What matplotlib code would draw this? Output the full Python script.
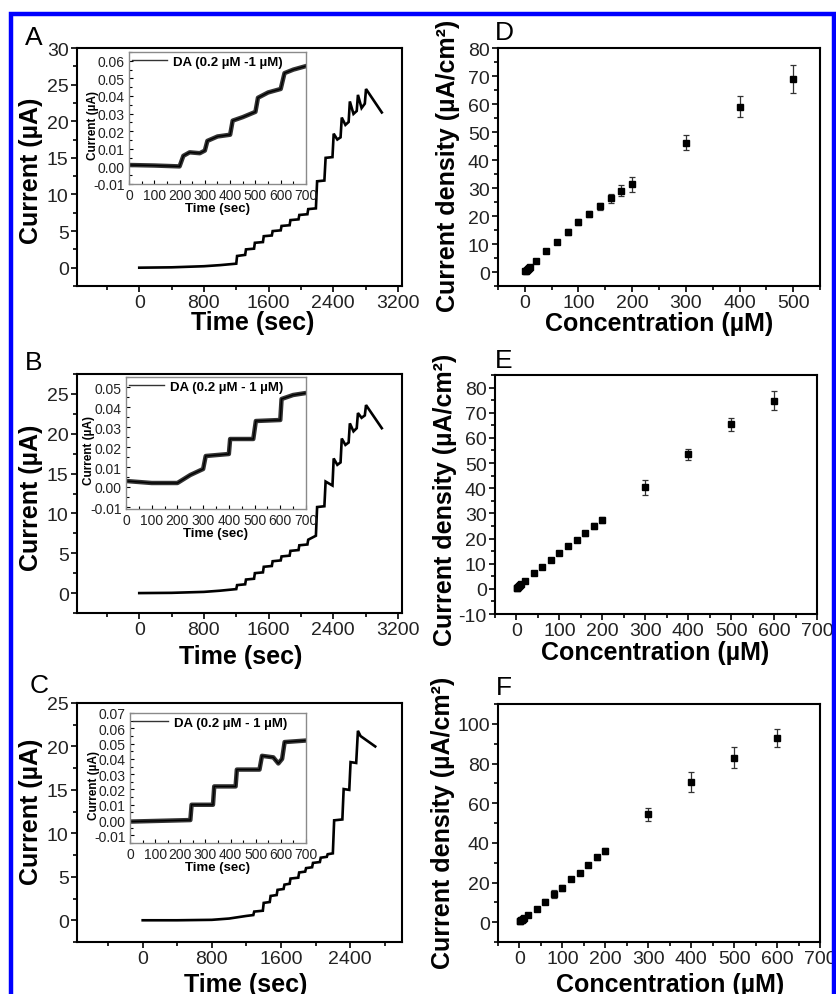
import matplotlib
matplotlib.use("Agg")
import matplotlib.pyplot as plt
from matplotlib.ticker import MultipleLocator, FormatStrFormatter
from matplotlib.lines import Line2D
from matplotlib.patches import Rectangle

plt.rcParams['font.family'] = ['Liberation Sans', 'DejaVu Sans']
plt.rcParams['axes.unicode_minus'] = False

# ---- amperometric traces (time in s, current in uA) ----
time_a = [0, 400, 800, 1000, 1200, 1210, 1310, 1320, 1420, 1430, 1530, 1540, 1640, 1650,
          1750, 1760, 1860, 1870, 1970, 1980, 2080, 2090, 2185, 2200, 2290, 2305, 2390,
          2405, 2450, 2490, 2505, 2550, 2590, 2605, 2650, 2690, 2705, 2750, 2790, 2805, 3000]
curr_a = [0, 0.05, 0.2, 0.35, 0.55, 1.6, 1.75, 2.5, 2.6, 3.4, 3.5, 4.3, 4.4, 5.0,
          5.1, 5.7, 5.8, 6.5, 6.6, 7.2, 7.3, 8.0, 8.1, 11.8, 11.9, 15.0, 15.1,
          18.3, 17.5, 17.8, 20.5, 19.5, 19.9, 22.7, 21.0, 21.4, 23.6, 21.8, 22.4, 24.4, 21.2]

time_b = [0, 400, 800, 1000, 1200, 1210, 1310, 1320, 1420, 1430, 1530, 1540, 1640, 1650,
          1750, 1760, 1860, 1870, 1970, 1980, 2080, 2090, 2185, 2200, 2290, 2305, 2390,
          2405, 2450, 2490, 2505, 2550, 2590, 2605, 2650, 2690, 2705, 2750, 2790, 2805, 3000]
curr_b = [0, 0.03, 0.15, 0.3, 0.5, 1.0, 1.1, 1.7, 1.8, 2.5, 2.6, 3.3, 3.4, 4.0,
          4.1, 4.6, 4.7, 5.3, 5.4, 6.0, 6.1, 6.7, 7.2, 10.8, 10.9, 14.0, 13.5,
          16.9, 16.1, 16.4, 19.4, 18.6, 18.9, 21.3, 20.3, 20.7, 22.6, 22.0, 22.3, 23.6, 20.7]

time_c = [0, 400, 800, 1000, 1200, 1280, 1290, 1390, 1400, 1470, 1480, 1550, 1560, 1630,
          1640, 1700, 1710, 1800, 1810, 1880, 1890, 1960, 1970, 2050, 2060, 2130, 2140,
          2200, 2215, 2310, 2325, 2390, 2405, 2470, 2490, 2520, 2690]
curr_c = [0, 0, 0.05, 0.2, 0.5, 0.6, 1.0, 1.1, 2.0, 2.1, 2.8, 2.9, 3.5, 3.6,
          4.1, 4.2, 4.8, 4.9, 5.5, 5.6, 6.0, 6.1, 6.6, 6.7, 7.2, 7.3, 7.6,
          7.7, 11.5, 11.6, 15.1, 15.0, 18.2, 18.1, 21.8, 21.2, 20.0]

# ---- insets: DA 0.2 uM - 1 uM additions ----
in_time_a = [0, 100, 200, 215, 240, 280, 300, 310, 350, 400, 410, 450, 500, 510, 550, 600, 615, 650, 700]
in_curr_a = [0.0008, 0.0005, 0.0, 0.006, 0.008, 0.0075, 0.009, 0.0145, 0.017, 0.018, 0.026,
             0.028, 0.031, 0.039, 0.042, 0.044, 0.053, 0.055, 0.057]

in_time_b = [0, 100, 200, 250, 300, 310, 400, 405, 495, 505, 600, 605, 650, 700]
in_curr_b = [0.003, 0.002, 0.002, 0.006, 0.009, 0.0155, 0.0165, 0.024, 0.024, 0.033, 0.0335,
             0.044, 0.046, 0.047]

in_time_c = [0, 240, 245, 330, 335, 420, 425, 515, 525, 570, 590, 605, 615, 700]
in_curr_c = [-0.001, 0.0, 0.010, 0.010, 0.022, 0.022, 0.033, 0.033, 0.042, 0.041, 0.037,
             0.040, 0.051, 0.052]

# ---- calibration curves (uM, uA/cm2) ----
conc_d = [1, 2, 4, 6, 8, 10, 20, 40, 60, 80, 100, 120, 140, 160, 180, 200, 300, 400, 500]
dens_d = [0.3, 0.5, 0.8, 1.1, 1.4, 1.8, 3.9, 7.4, 10.7, 14.3, 17.9, 20.8, 23.4, 26.3, 29.1,
          31.4, 46.2, 59.1, 68.9]
err_d = [0.2, 0.2, 0.3, 0.3, 0.3, 0.4, 0.5, 0.6, 0.8, 1.0, 1.2, 1.1, 1.4, 1.5, 2.0, 2.7,
         2.7, 3.9, 5.1]

conc_ef = [1, 2, 4, 6, 8, 10, 20, 40, 60, 80, 100, 120, 140, 160, 180, 200, 300, 400, 500, 600]
dens_e = [0.3, 0.5, 0.8, 1.1, 1.4, 1.8, 3.2, 6.1, 8.8, 11.5, 14.1, 17.0, 19.4, 22.1, 25.0,
          27.4, 40.3, 53.4, 65.4, 74.7]
err_e = [0.2, 0.2, 0.2, 0.3, 0.3, 0.3, 0.3, 0.4, 0.5, 0.6, 0.8, 0.8, 0.9, 1.0, 1.2, 1.2,
         2.8, 2.3, 2.5, 3.8]
dens_f = [0.4, 0.7, 1.0, 1.3, 1.7, 2.2, 3.7, 6.8, 10.3, 14.0, 17.4, 21.7, 25.0, 28.8, 32.7,
          35.9, 54.3, 70.7, 82.9, 92.7]
err_f = [0.3, 0.3, 0.3, 0.4, 0.4, 0.5, 0.6, 0.8, 1.2, 2.0, 1.5, 0.8, 0.9, 1.0, 1.2, 1.5,
         3.4, 5.2, 5.2, 4.6]

W, H = 837, 995
fig = plt.figure(figsize=(W / 100, H / 100), dpi=100)


def box(left, top, right, bottom):
    # pixel box -> figure fraction
    return [left / W, 1 - bottom / H, (right - left) / W, (bottom - top) / H]


def style_main(ax, xmaj, xmin, ymaj, ymin):
    for s in ax.spines.values():
        s.set_linewidth(1.5)
    ax.xaxis.set_major_locator(MultipleLocator(xmaj))
    ax.xaxis.set_minor_locator(MultipleLocator(xmin))
    ax.yaxis.set_major_locator(MultipleLocator(ymaj))
    ax.yaxis.set_minor_locator(MultipleLocator(ymin))
    ax.tick_params(which='both', direction='out', width=1.2, labelsize=14,
                   labelcolor='#222222', top=False, right=False)
    ax.tick_params(which='major', length=4, pad=2)
    ax.tick_params(which='minor', length=3)


def trace_panel(rect, t, i, xlim, ylim, xlab_x, xlab_y, ylab_y):
    ax = fig.add_axes(box(*rect))
    ax.plot(t, i, color='black', lw=1.9, solid_joinstyle='miter')
    ax.set_xlim(*xlim)
    ax.set_ylim(*ylim)
    style_main(ax, 800, 400, 5, 2.5)
    ax.set_xlabel('Time (sec)', fontsize=18, fontweight='bold')
    ax.xaxis.set_label_coords(xlab_x, xlab_y)
    ax.xaxis.label.set_va('top')
    ax.set_ylabel('Current (µA)', fontsize=18, fontweight='bold')
    ax.yaxis.set_label_coords(-0.105, ylab_y)
    return ax


def inset(rect, t, i, ylim, legend_text):
    ax = fig.add_axes(box(*rect))
    ax.plot(t, i, color='#333333', lw=3.2)
    ax.plot(t, i, color='black', lw=1.0)
    ax.set_xlim(0, 700)
    ax.set_ylim(*ylim)
    for s in ax.spines.values():
        s.set_color('#8a8a8a')
        s.set_linewidth(1.0)
    ax.xaxis.set_major_locator(MultipleLocator(100))
    ax.xaxis.set_minor_locator(MultipleLocator(50))
    ax.yaxis.set_major_locator(MultipleLocator(0.01))
    ax.yaxis.set_minor_locator(MultipleLocator(0.005))
    ax.yaxis.set_major_formatter(FormatStrFormatter('%.2f'))
    ax.tick_params(which='both', direction='in', width=0.8, labelsize=10,
                   labelcolor='#222222', top=False, right=False, pad=3)
    ax.tick_params(which='major', length=3)
    ax.tick_params(which='minor', length=2)
    ax.set_xlabel('Time (sec)', fontsize=9.5, fontweight='bold', labelpad=0)
    ax.set_ylabel('Current (µA)', fontsize=8.5, fontweight='bold')
    ax.yaxis.set_label_coords(-0.17, 0.45)
    handle = Line2D([], [], color='#333333', lw=1.0)
    ax.legend([handle], [legend_text], loc='upper left', frameon=False,
              prop=dict(weight='bold', size=9.5), handlelength=2.6, handletextpad=0.5,
              borderaxespad=0.15, borderpad=0.1)
    return ax


def calib_panel(rect, c, d, e, xlim, ylim, ymaj, ymin, xlab_x, xlab_y, ylab_x, ylab_y):
    ax = fig.add_axes(box(*rect))
    ax.errorbar(c, d, yerr=e, fmt='s', color='black', ms=4.5, ecolor='#333333',
                elinewidth=0.9, capsize=2.5, capthick=0.9)
    ax.set_xlim(*xlim)
    ax.set_ylim(*ylim)
    style_main(ax, 100, 50, ymaj, ymin)
    ax.set_xlabel('Concentration (µM)', fontsize=18, fontweight='bold')
    ax.xaxis.set_label_coords(xlab_x, xlab_y)
    ax.xaxis.label.set_va('top')
    ax.set_ylabel('Current density (µA/cm²)', fontsize=18, fontweight='bold')
    ax.yaxis.set_label_coords(ylab_x, ylab_y)
    return ax


# left column: amperometric responses
trace_panel((77, 49, 402, 287), time_a, curr_a, (-770, 3250), (-2.5, 30), 0.54, -0.1, 0.487)
inset((129, 53, 306, 185), in_time_a, in_curr_a, (-0.01, 0.065), 'DA (0.2 µM -1 µM)')

trace_panel((77, 375, 402, 614), time_b, curr_b, (-770, 3250), (-2.5, 27.5), 0.505, -0.13, 0.487)
inset((126, 378, 306, 510), in_time_b, in_curr_b, (-0.011, 0.055), 'DA (0.2 µM - 1 µM)')

trace_panel((77, 704, 402, 943), time_c, curr_c, (-760, 3000), (-2.5, 25), 0.52, -0.124, 0.55)
inset((130, 714, 306, 844), in_time_c, in_curr_c, (-0.015, 0.07), 'DA (0.2 µM - 1 µM)')

# right column: calibration plots
calib_panel((498, 49, 820, 287), conc_d, dens_d, err_d, (-50, 550), (-5, 80), 10, 5,
            0.5, -0.107, -0.118, 0.508)
calib_panel((495, 376, 817, 615), conc_ef, dens_e, err_e, (-50, 700), (-10, 85), 10, 5,
            0.498, -0.11, -0.118, 0.48)
calib_panel((498, 705, 820, 943), conc_ef, dens_f, err_f, (-50, 700), (-10, 110), 20, 10,
            0.536, -0.124, -0.134, 0.504)

# panel letters
letters = ['A', 'B', 'C', 'D', 'E', 'F']
letter_pos = [(25, 45), (25, 370), (30, 693), (495, 40), (495, 368), (496, 695)]
for lab, (x, y) in zip(letters, letter_pos):
    fig.text(x / W, 1 - y / H, lab, fontsize=19, ha='left', va='baseline')

# blue frame around the figure
fig.add_artist(Rectangle((11 / W, -0.02), (834.5 - 11) / W, 1 - 14.5 / H + 0.02,
                         transform=fig.transFigure, fill=False, edgecolor='#0000ff', lw=3.2))

fig.savefig('out.png', dpi=100)
